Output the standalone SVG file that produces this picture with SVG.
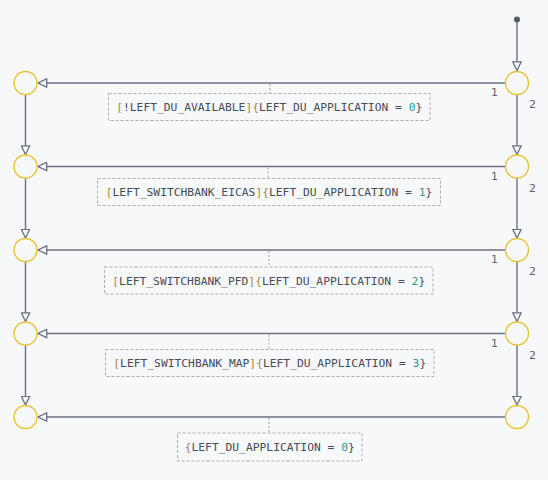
<svg xmlns="http://www.w3.org/2000/svg" width="548" height="480" viewBox="0 0 548 480">
<defs>
<marker id="ah" viewBox="0 0 10 10" refX="10" refY="5" markerWidth="10" markerHeight="10" markerUnits="userSpaceOnUse" orient="auto">
<path d="M0.8,0.8 L9.5,5 L0.8,9.2 Z" fill="#f7f8fa" stroke="#6b7080" stroke-width="1.3"/>
</marker>
<style>
.bg{fill:#f7f8fa}
.st{fill:#f7f8fa;stroke:#e8c232;stroke-width:1.4}
.ln{fill:none;stroke:#6b7080;stroke-width:1.4;marker-end:url(#ah)}
.tk{fill:none;stroke:#999ea8;stroke-width:1;stroke-dasharray:2,2}
.bx{fill:#f7f8fa;stroke:#a9adb5;stroke-width:1;stroke-dasharray:3,2}
.lb{font-family:"DejaVu Sans Mono","Liberation Mono",monospace;font-size:11.3px;fill:#464c58}
.br{fill:#b0843a}
.nm{fill:#2a9d7f}
.pl{font-family:"DejaVu Sans","Liberation Sans",sans-serif;font-size:11px;fill:#5c6272}
</style>
</defs>
<rect class="bg" x="0" y="0" width="548" height="480"/>
<g id="connectors">
<line class="ln" x1="517" y1="22" x2="517" y2="71"/>
<line class="ln" x1="505.5" y1="83" x2="37.5" y2="83"/>
<line class="ln" x1="505.5" y1="166.5" x2="37.5" y2="166.5"/>
<line class="ln" x1="505.5" y1="250" x2="37.5" y2="250"/>
<line class="ln" x1="505.5" y1="333.5" x2="37.5" y2="333.5"/>
<line class="ln" x1="505.5" y1="417" x2="37.5" y2="417"/>
<line class="ln" x1="25.5" y1="94.5" x2="25.5" y2="155"/>
<line class="ln" x1="25.5" y1="178" x2="25.5" y2="238.5"/>
<line class="ln" x1="25.5" y1="261.5" x2="25.5" y2="322"/>
<line class="ln" x1="25.5" y1="345" x2="25.5" y2="405.5"/>
<line class="ln" x1="517" y1="94.5" x2="517" y2="155"/>
<line class="ln" x1="517" y1="178" x2="517" y2="238.5"/>
<line class="ln" x1="517" y1="261.5" x2="517" y2="322"/>
<line class="ln" x1="517" y1="345" x2="517" y2="405.5"/>
<line class="tk" x1="270" y1="84" x2="270" y2="93.5"/>
<line class="tk" x1="268" y1="167.5" x2="268" y2="178.5"/>
<line class="tk" x1="269" y1="251" x2="269" y2="267"/>
<line class="tk" x1="269" y1="334.5" x2="269" y2="349.5"/>
<line class="tk" x1="269" y1="418" x2="269" y2="433"/>
<text class="pl" x="491" y="96">1</text>
<text class="pl" x="529" y="108">2</text>
<text class="pl" x="491" y="179.5">1</text>
<text class="pl" x="529" y="191.5">2</text>
<text class="pl" x="491" y="263">1</text>
<text class="pl" x="529" y="275">2</text>
<text class="pl" x="491" y="346.5">1</text>
<text class="pl" x="529" y="358.5">2</text>
</g>
<g id="start"><circle cx="517" cy="19.5" r="3" fill="#555a66"/></g>
<g id="s1"><circle class="st" cx="517" cy="83" r="11.5"/></g>
<g id="s2"><circle class="st" cx="517" cy="166.5" r="11.5"/></g>
<g id="s3"><circle class="st" cx="517" cy="250" r="11.5"/></g>
<g id="s4"><circle class="st" cx="517" cy="333.5" r="11.5"/></g>
<g id="s5"><circle class="st" cx="517" cy="417" r="11.5"/></g>
<g id="t1"><circle class="st" cx="25.5" cy="83" r="11.5"/></g>
<g id="t2"><circle class="st" cx="25.5" cy="166.5" r="11.5"/></g>
<g id="t3"><circle class="st" cx="25.5" cy="250" r="11.5"/></g>
<g id="t4"><circle class="st" cx="25.5" cy="333.5" r="11.5"/></g>
<g id="t5"><circle class="st" cx="25.5" cy="417" r="11.5"/></g>
<g id="label1">
<rect class="bx" x="108.5" y="93.5" width="321.5" height="27"/>
<text class="lb" x="269.25" y="111" text-anchor="middle"><tspan class="br">[</tspan>!LEFT_DU_AVAILABLE<tspan class="br">]{</tspan>LEFT_DU_APPLICATION = <tspan class="nm">0</tspan>}</text>
</g>
<g id="label2">
<rect class="bx" x="97.5" y="178.5" width="343" height="27"/>
<text class="lb" x="269" y="196" text-anchor="middle"><tspan class="br">[</tspan>LEFT_SWITCHBANK_EICAS<tspan class="br">]{</tspan>LEFT_DU_APPLICATION = <tspan class="nm">1</tspan>}</text>
</g>
<g id="label3">
<rect class="bx" x="104.5" y="267" width="328.5" height="27"/>
<text class="lb" x="268.75" y="284.5" text-anchor="middle"><tspan class="br">[</tspan>LEFT_SWITCHBANK_PFD<tspan class="br">]{</tspan>LEFT_DU_APPLICATION = <tspan class="nm">2</tspan>}</text>
</g>
<g id="label4">
<rect class="bx" x="105.5" y="349.5" width="328.5" height="27"/>
<text class="lb" x="269.75" y="367" text-anchor="middle"><tspan class="br">[</tspan>LEFT_SWITCHBANK_MAP<tspan class="br">]{</tspan>LEFT_DU_APPLICATION = <tspan class="nm">3</tspan>}</text>
</g>
<g id="label5">
<rect class="bx" x="177.5" y="433" width="184.5" height="28"/>
<text class="lb" x="269.75" y="451" text-anchor="middle"><tspan class="br">{</tspan>LEFT_DU_APPLICATION = <tspan class="nm">0</tspan>}</text>
</g>
</svg>
